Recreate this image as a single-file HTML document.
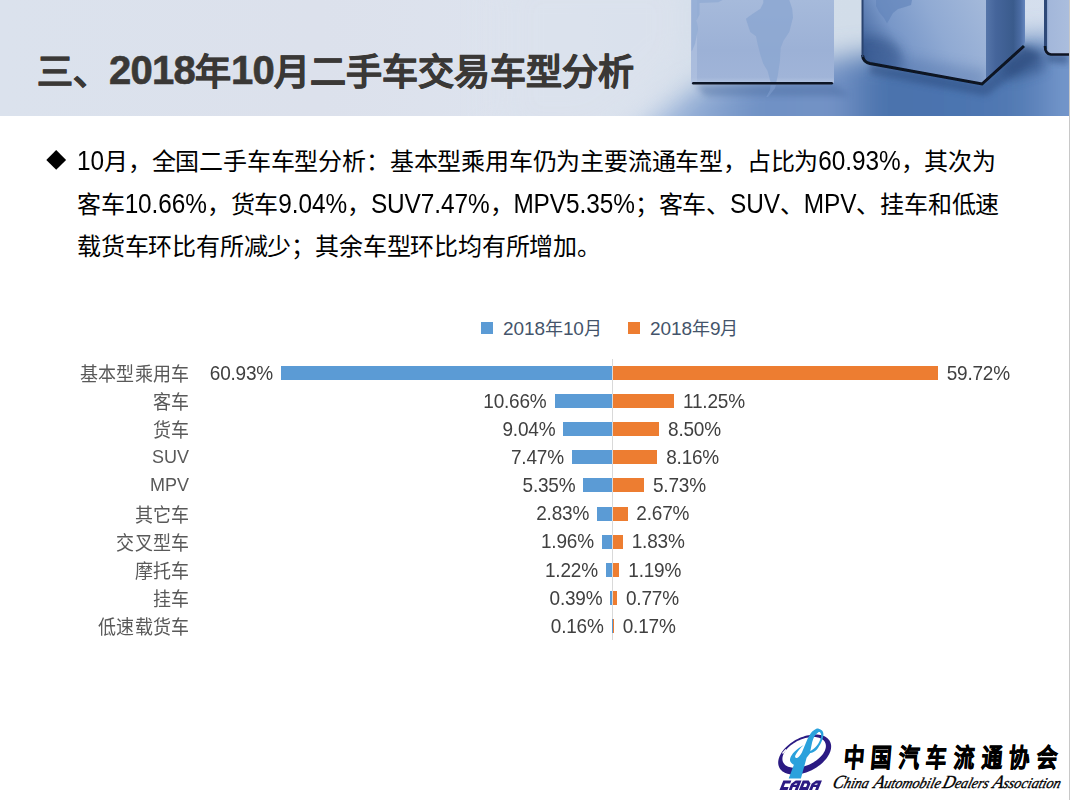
<!DOCTYPE html>
<html lang="zh-CN">
<head>
<meta charset="utf-8">
<style>
html,body{margin:0;padding:0;}
body{width:1070px;height:800px;position:relative;overflow:hidden;background:#fff;font-family:"Liberation Sans",sans-serif;}
.abs{position:absolute;}
#title .d{font-size:40px;letter-spacing:-0.75px;position:relative;top:-0.5px;}
#title{left:37px;top:42.5px;font-size:36px;font-weight:bold;-webkit-text-stroke:0.6px #3a3836;color:#3a3836;white-space:nowrap;letter-spacing:0px;}
#vline{left:1069px;top:0px;width:1px;height:800px;background:#c8c8c8;}
#para{left:77px;top:141px;width:990px;font-size:24px;letter-spacing:-0.19px;line-height:42.5px;color:#000;white-space:nowrap;}
#para .l{font-size:24.4px;letter-spacing:-0.08px;display:inline-block;transform:scaleY(1.11);transform-origin:0 65%;}
#dia{left:48.5px;top:152.9px;width:14.4px;height:14.4px;background:#000;transform:rotate(45deg);transform-origin:center;}
.leg{font-size:18px;color:#44546a;white-space:nowrap;}
.sq{width:12px;height:12px;}
.ld{font-size:19px;letter-spacing:-0.1px;}
.cat{font-size:18px;color:#595959;text-align:right;width:150px;white-space:nowrap;line-height:20px;transform:scaleY(1.07);}
.cj{letter-spacing:0.25px;margin-left:0.25px;}
.val{font-size:19px;letter-spacing:-0.2px;color:#404040;white-space:nowrap;line-height:20px;transform:scaleY(1.04);}
.bar{height:14px;}
.b{background:#5b9bd5;}
.o{background:#ed7d31;}
</style>
</head>
<body>
<svg id="hdrsvg" class="abs" style="left:0;top:0" width="1069" height="116" viewBox="0 0 1069 116">
<defs>
<linearGradient id="bgG" x1="0" y1="0" x2="1068" y2="0" gradientUnits="userSpaceOnUse">
<stop offset="0" stop-color="#dbe2ed"/><stop offset="0.3" stop-color="#dce1ec"/><stop offset="0.5" stop-color="#dde3ee"/><stop offset="0.6" stop-color="#d9e1ed"/><stop offset="0.64" stop-color="#d4deea"/><stop offset="0.8" stop-color="#d2dde9"/><stop offset="1" stop-color="#d5dfee"/>
</linearGradient>
<linearGradient id="floorG" x1="600" y1="0" x2="1068" y2="0" gradientUnits="userSpaceOnUse">
<stop offset="0" stop-color="#c8d6ea"/><stop offset="0.13" stop-color="#a3badd"/><stop offset="0.34" stop-color="#6e90c4"/><stop offset="0.5" stop-color="#7493c6"/><stop offset="0.6" stop-color="#4a72ac"/><stop offset="0.78" stop-color="#4c74b0"/><stop offset="0.9" stop-color="#537bb4"/><stop offset="1" stop-color="#7698cc"/>
</linearGradient>
<linearGradient id="c1G" x1="0" y1="0" x2="0" y2="84" gradientUnits="userSpaceOnUse">
<stop offset="0" stop-color="#a6badb"/><stop offset="0.6" stop-color="#9cb1d6"/><stop offset="0.92" stop-color="#a0b4d8"/><stop offset="1" stop-color="#b4c5e2"/>
</linearGradient>
<linearGradient id="c2L" x1="862" y1="62" x2="986" y2="0" gradientUnits="userSpaceOnUse">
<stop offset="0" stop-color="#2f4d7a"/><stop offset="0.08" stop-color="#4a6ca3"/><stop offset="0.3" stop-color="#7897c8"/><stop offset="0.6" stop-color="#90aad3"/><stop offset="1" stop-color="#a4b9da"/>
</linearGradient>
<linearGradient id="c2R" x1="986" y1="0" x2="1025" y2="0" gradientUnits="userSpaceOnUse">
<stop offset="0" stop-color="#5575a9"/><stop offset="0.25" stop-color="#45659b"/><stop offset="0.7" stop-color="#3a5b8c"/><stop offset="0.88" stop-color="#4b6ca3"/><stop offset="1" stop-color="#6586bd"/>
</linearGradient>
<linearGradient id="c3G" x1="1044" y1="0" x2="1068" y2="0" gradientUnits="userSpaceOnUse">
<stop offset="0" stop-color="#5f80b5"/><stop offset="0.2" stop-color="#a3b7da"/><stop offset="1" stop-color="#aabddd"/>
</linearGradient>
<filter id="bl20" x="-50%" y="-50%" width="200%" height="200%"><feGaussianBlur stdDeviation="18"/></filter>
<filter id="bl9" x="-30%" y="-80%" width="160%" height="260%"><feGaussianBlur stdDeviation="13"/></filter>
<filter id="bl6" x="-20%" y="-50%" width="140%" height="200%"><feGaussianBlur stdDeviation="6"/></filter>
<filter id="bl3" x="-20%" y="-50%" width="140%" height="200%"><feGaussianBlur stdDeviation="3"/></filter>
<filter id="bl1" filterUnits="userSpaceOnUse" x="0" y="-20" width="1100" height="160"><feGaussianBlur stdDeviation="0.7"/></filter>
</defs>
<rect x="0" y="0" width="1069" height="116" fill="url(#bgG)"/>
<path d="M600,150 L700,86 L850,56 L1068,36 L1120,36 L1120,150 Z" fill="url(#floorG)" filter="url(#bl9)"/>
<path d="M500,-30 L690,-30 L690,60 L600,140 L500,140 Z" fill="#dbe2ed" opacity="0.85" filter="url(#bl20)"/>
<path d="M695,84 L835,84 L850,96 L705,96 Z" fill="#4a6aa0" opacity="0.45" filter="url(#bl3)"/>
<path d="M870,63 L982,84 L1024,46 L1040,56 L986,96 L870,74 Z" fill="#2c4a7c" opacity="0.5" filter="url(#bl3)"/>
<path d="M1046,54 L1068,54 L1068,64 L1048,62 Z" fill="#2c4a7c" opacity="0.55" filter="url(#bl3)"/>
<path d="M1000,66 L1024,46 L1044,50 L1044,70 L1010,80 Z" fill="#2c4a7c" opacity="0.6" filter="url(#bl6)"/>
<!-- cube 1 -->
<rect x="691" y="-6" width="143" height="90" rx="3" fill="url(#c1G)"/>
<rect x="691" y="0" width="6" height="84" fill="#b8c8e3" opacity="0.5"/>
<path d="M763.3,0 L789.3,0 L792.2,8.7 L793,17.4 L789.3,31.9 L783.6,40.6 L780.7,47.8 L779.9,60.9 L777.8,75.4 L776.3,82 L770.5,82 L767.6,71 L763.3,63.8 L760.4,55.1 L757.5,43.5 L756,36.2 L750.2,31.9 L747.3,23.2 L745.9,18.8 L751.7,14.5 L760.4,8.7 L763.3,2.9 Z" fill="#8ba6d1" opacity="0.8"/>
<path d="M770.5,85 L776,85 L774.9,88.4 L768,97.1 L766.2,97 L770,90 Z" fill="#7e9dcd" opacity="0.6"/>
<path d="M691.5,0 L722.7,0 L718.3,2.2 L699.5,2.9 L699.5,14.5 L696.6,20.3 L698,29 L695.1,43.5 L692.2,50.7 L691.5,51 Z" fill="#8ea9d3" opacity="0.7"/>
<rect x="692" y="82" width="141" height="2.6" rx="1.3" fill="#0e1626" filter="url(#bl1)"/>
<!-- cube 2 -->
<path d="M862,-6 L986,-6 L986,80 L982,83 L868,62 Q862,60 862,55 Z" fill="url(#c2L)"/>
<clipPath id="c2clip"><path d="M862,-6 L986,-6 L986,80 L982,83 L868,62 Q862,60 862,55 Z"/></clipPath>
<g clip-path="url(#c2clip)"><ellipse cx="872" cy="58" rx="30" ry="22" fill="#2f4f85" opacity="0.55" filter="url(#bl6)"/><path d="M862,70 L986,92 L986,70 L862,50 Z" fill="#4a6ca3" opacity="0.35" filter="url(#bl6)"/></g>
<path d="M986,-6 L1025,-6 L1025,42 Q1025,45 1022,47 L985,82 L986,80 Z" fill="url(#c2R)"/>
<path d="M876,0 L912,0 L911,5 L905,7 L898,9 L893,13 L889,20 L887,23.5 L884,18 L879,12 L876,6 Z" fill="#5f82b9" opacity="0.6"/>
<path d="M862.5,55 Q863,62 870,63.5 L982,84 L1024,46" fill="none" stroke="#0a1220" stroke-width="3" filter="url(#bl1)"/>
<path d="M862.5,0 L862.5,57" fill="none" stroke="#2a4470" stroke-width="2" filter="url(#bl1)"/>
<!-- cube 3 -->
<rect x="1044" y="-6" width="30" height="60" rx="3" fill="url(#c3G)"/>
<path d="M1045.5,-6 L1045.5,49" fill="none" stroke="#2d4a78" stroke-width="3" filter="url(#bl1)"/>
<path d="M1045,46 Q1045,54 1051,54.5 L1070,54.5" fill="none" stroke="#0a1220" stroke-width="2.6" filter="url(#bl1)"/>
</svg>
<div id="title" class="abs">三、<span class="d">2018</span>年<span class="d">10</span>月二手车交易车型分析</div>
<div id="vline" class="abs"></div>

<div id="dia" class="abs"></div>
<div id="para" class="abs"><span class="l">10</span>月，全国二手车车型分析：基本型乘用车仍为主要流通车型，占比为<span class="l">60.93%</span>，其次为<br>客车<span class="l">10.66%</span>，货车<span class="l">9.04%</span>，<span class="l">SUV7.47%</span>，<span class="l">MPV5.35%</span>；客车、<span class="l">SUV</span>、<span class="l">MPV</span>、挂车和低速<br>载货车环比有所减少；其余车型环比均有所增加。</div>

<div class="abs sq b" style="left:481px;top:322px"></div>
<div class="abs leg" style="left:503px;top:314px"><span class="ld">2018</span>年<span class="ld">10</span>月</div>
<div class="abs sq o" style="left:628px;top:322px"></div>
<div class="abs leg" style="left:650px;top:314px"><span class="ld">2018</span>年<span class="ld">9</span>月</div>

<div class="abs" style="left:612px;top:359px;width:1px;height:281px;background:#d9d9d9"></div>

<div id="chart">
<div class="abs bar b" style="left:281.04px;top:366px;width:331.46px"></div>
<div class="abs bar o" style="left:613.00px;top:366px;width:324.88px"></div>
<div class="abs cat cj" style="left:39px;top:365.1px">基本型乘用车</div>
<div class="abs val" style="right:796.96px;top:363.9px">60.93%</div>
<div class="abs val" style="left:946.68px;top:363.9px">59.72%</div>
<div class="abs bar b" style="left:554.51px;top:394px;width:57.99px"></div>
<div class="abs bar o" style="left:613.00px;top:394px;width:61.20px"></div>
<div class="abs cat cj" style="left:39px;top:393.1px">客车</div>
<div class="abs val" style="right:523.49px;top:391.9px">10.66%</div>
<div class="abs val" style="left:683.00px;top:391.9px">11.25%</div>
<div class="abs bar b" style="left:563.32px;top:422px;width:49.18px"></div>
<div class="abs bar o" style="left:613.00px;top:422px;width:46.24px"></div>
<div class="abs cat cj" style="left:39px;top:421.2px">货车</div>
<div class="abs val" style="right:514.68px;top:420.1px">9.04%</div>
<div class="abs val" style="left:668.04px;top:420.1px">8.50%</div>
<div class="abs bar b" style="left:571.86px;top:450px;width:40.64px"></div>
<div class="abs bar o" style="left:613.00px;top:450px;width:44.39px"></div>
<div class="abs cat" style="left:39px;top:447.4px">SUV</div>
<div class="abs val" style="right:506.14px;top:448.2px">7.47%</div>
<div class="abs val" style="left:666.19px;top:448.2px">8.16%</div>
<div class="abs bar b" style="left:583.40px;top:478px;width:29.10px"></div>
<div class="abs bar o" style="left:613.00px;top:478px;width:31.17px"></div>
<div class="abs cat" style="left:39px;top:475.4px">MPV</div>
<div class="abs val" style="right:494.60px;top:476.2px">5.35%</div>
<div class="abs val" style="left:652.97px;top:476.2px">5.73%</div>
<div class="abs bar b" style="left:597.10px;top:507px;width:15.40px"></div>
<div class="abs bar o" style="left:613.00px;top:507px;width:14.52px"></div>
<div class="abs cat cj" style="left:39px;top:505.5px">其它车</div>
<div class="abs val" style="right:480.90px;top:504.3px">2.83%</div>
<div class="abs val" style="left:636.32px;top:504.3px">2.67%</div>
<div class="abs bar b" style="left:601.84px;top:535px;width:10.66px"></div>
<div class="abs bar o" style="left:613.00px;top:535px;width:9.96px"></div>
<div class="abs cat cj" style="left:39px;top:533.6px">交叉型车</div>
<div class="abs val" style="right:476.16px;top:532.4px">1.96%</div>
<div class="abs val" style="left:631.76px;top:532.4px">1.83%</div>
<div class="abs bar b" style="left:605.86px;top:563px;width:6.64px"></div>
<div class="abs bar o" style="left:613.00px;top:563px;width:6.47px"></div>
<div class="abs cat cj" style="left:39px;top:561.8px">摩托车</div>
<div class="abs val" style="right:472.14px;top:560.5px">1.22%</div>
<div class="abs val" style="left:628.27px;top:560.5px">1.19%</div>
<div class="abs bar b" style="left:610.38px;top:591px;width:2.12px"></div>
<div class="abs bar o" style="left:613.00px;top:591px;width:4.19px"></div>
<div class="abs cat cj" style="left:39px;top:589.9px">挂车</div>
<div class="abs val" style="right:467.62px;top:588.6px">0.39%</div>
<div class="abs val" style="left:625.99px;top:588.6px">0.77%</div>
<div class="abs bar b" style="left:611.63px;top:619px;width:0.87px"></div>
<div class="abs bar o" style="left:613.00px;top:619px;width:0.92px"></div>
<div class="abs cat cj" style="left:39px;top:618.0px">低速载货车</div>
<div class="abs val" style="right:466.37px;top:616.8px">0.16%</div>
<div class="abs val" style="left:622.72px;top:616.8px">0.17%</div>
</div><!--/chart-->
<script>
</script>
<!--logo-->
<svg class="abs" style="left:775px;top:725px" width="60" height="71" viewBox="775 725 60 71">
<path fill-rule="evenodd" fill="#2b1a83" d="M829.95,741.39 L830.44,742.48 L830.80,743.63 L831.04,744.83 L831.15,746.08 L831.13,747.37 L830.98,748.70 L830.70,750.05 L830.29,751.43 L829.76,752.82 L829.11,754.22 L828.34,755.62 L827.45,757.02 L826.46,758.40 L825.35,759.77 L824.15,761.11 L822.85,762.41 L821.46,763.68 L819.99,764.91 L818.45,766.08 L816.84,767.20 L815.17,768.26 L813.44,769.25 L811.68,770.17 L809.88,771.01 L808.06,771.77 L806.22,772.45 L804.37,773.04 L802.52,773.54 L800.68,773.95 L798.87,774.27 L797.08,774.48 L795.33,774.60 L793.62,774.63 L791.97,774.55 L790.38,774.38 L788.86,774.11 L787.42,773.75 L786.06,773.29 L784.79,772.74 L783.62,772.10 L782.55,771.38 L781.58,770.58 L780.74,769.69 L780.00,768.74 L779.39,767.71 L778.90,766.62 L778.54,765.47 L778.30,764.27 L778.19,763.02 L778.21,761.73 L778.36,760.40 L778.64,759.05 L779.05,757.67 L779.58,756.28 L780.23,754.88 L781.00,753.48 L781.89,752.08 L782.88,750.70 L783.99,749.33 L785.19,747.99 L786.49,746.69 L787.88,745.42 L789.35,744.19 L790.89,743.02 L792.50,741.90 L794.17,740.84 L795.90,739.85 L797.66,738.93 L799.46,738.09 L801.28,737.33 L803.12,736.65 L804.97,736.06 L806.82,735.56 L808.66,735.15 L810.47,734.83 L812.26,734.62 L814.01,734.50 L815.72,734.47 L817.37,734.55 L818.96,734.72 L820.48,734.99 L821.92,735.35 L823.28,735.81 L824.55,736.36 L825.72,737.00 L826.79,737.72 L827.76,738.52 L828.60,739.41 L829.34,740.36 Z M825.18,742.63 L825.51,743.48 L825.75,744.38 L825.87,745.32 L825.89,746.29 L825.81,747.29 L825.62,748.32 L825.32,749.37 L824.93,750.43 L824.43,751.50 L823.83,752.58 L823.14,753.66 L822.35,754.73 L821.47,755.79 L820.52,756.83 L819.48,757.85 L818.36,758.84 L817.18,759.81 L815.93,760.73 L814.63,761.62 L813.27,762.46 L811.87,763.26 L810.44,764.00 L808.97,764.68 L807.48,765.31 L805.97,765.87 L804.46,766.37 L802.94,766.79 L801.43,767.15 L799.93,767.44 L798.45,767.65 L797.00,767.79 L795.58,767.86 L794.21,767.85 L792.89,767.76 L791.62,767.60 L790.41,767.37 L789.26,767.06 L788.19,766.68 L787.20,766.23 L786.29,765.72 L785.47,765.14 L784.74,764.50 L784.10,763.80 L783.56,763.04 L783.12,762.23 L782.79,761.38 L782.55,760.48 L782.43,759.54 L782.41,758.57 L782.49,757.57 L782.68,756.54 L782.98,755.49 L783.37,754.43 L783.87,753.36 L784.47,752.28 L785.16,751.20 L785.95,750.13 L786.83,749.07 L787.78,748.03 L788.82,747.01 L789.94,746.02 L791.12,745.05 L792.37,744.13 L793.67,743.24 L795.03,742.40 L796.43,741.60 L797.86,740.86 L799.33,740.18 L800.82,739.55 L802.33,738.99 L803.84,738.49 L805.36,738.07 L806.87,737.71 L808.37,737.42 L809.85,737.21 L811.30,737.07 L812.72,737.00 L814.09,737.01 L815.41,737.10 L816.68,737.26 L817.89,737.49 L819.04,737.80 L820.11,738.18 L821.10,738.63 L822.01,739.14 L822.83,739.72 L823.56,740.36 L824.20,741.06 L824.74,741.82 Z"/>
<path d="M782.5,753.5 L786,749.5" stroke="#fff" stroke-width="1.4"/>
<path fill-rule="evenodd" fill="#2aa1dc" d="M788.7,778.6 L793.9,764.8 C791,763.5 789.5,761 790.1,758.7 C791,754.5 797,748.5 803.7,745.1 C800.5,748 797,752 795.3,755.5 C794.5,757.5 796,758.5 797.5,757.8 C799,757 800.5,755 801.9,752.5 L807.5,739 C810,734 812,731 814,730.2 C816,728.5 817.5,728.2 818.7,728.7 C821.5,729.5 823.6,731 823.4,734.5 C823.2,739 820.5,745 816.9,749.4 C814.5,751.5 812.5,752.8 810.3,753.1 L806.6,757.8 L800.9,778.6 Z M819.7,732 C821,733 821.5,735 821.1,737.2 C820,741 818.5,743.5 816.9,745.6 C815,748 812.5,750 810.3,751.2 C811,748 811.5,745 812.2,741.9 C813.5,737.5 815,735 816.9,733.4 C817.8,732.5 818.8,731.7 819.7,732 Z"/>

<g transform="translate(779.5,790) skewX(-22)" fill="#2b1a83">
<path d="M0,0 L0,-9.5 L8,-9.5 L8,-6.6 L3,-6.6 L3,-2.9 L8,-2.9 L8,0 Z"/>
<path fill-rule="evenodd" d="M9.2,0 L9.2,-6.2 L12.4,-9.5 L18.2,-9.5 L18.2,0 L15.2,0 L15.2,-2.9 L12.2,-2.9 L12.2,0 Z M12.2,-5.2 L13.3,-6.6 L15.2,-6.6 L15.2,-5.2 Z"/>
<path fill-rule="evenodd" d="M19.4,0 L19.4,-9.5 L25.4,-9.5 L28.4,-6.5 L28.4,0 Z M22.4,-2.9 L25.4,-2.9 L25.4,-5.6 L24.5,-6.6 L22.4,-6.6 Z"/>
<path fill-rule="evenodd" d="M29.6,0 L29.6,-6.2 L32.8,-9.5 L38.6,-9.5 L38.6,0 L35.6,0 L35.6,-2.9 L32.6,-2.9 L32.6,0 Z M32.6,-5.2 L33.7,-6.6 L35.6,-6.6 L35.6,-5.2 Z"/>
</g>
</svg>
<div id="cn" class="abs" style="left:845px;top:739px;font-size:26px;font-weight:bold;letter-spacing:8.5px;white-space:nowrap;color:#000;-webkit-text-stroke:0.75px #000;transform:scaleX(0.8) skewX(-6deg);transform-origin:0 0;line-height:38px">中国汽车流通协会</div>
<svg class="abs" style="left:826px;top:770px" width="244" height="26" viewBox="0 0 244 26">
<g font-family="Liberation Serif" font-style="italic" font-size="15" fill="#000" stroke="#000" stroke-width="0.35" transform="skewX(-16) translate(5,0)">
<text x="6" y="18.5" textLength="36" lengthAdjust="spacingAndGlyphs"><tspan font-size="18.5">C</tspan>hina</text>
<text x="47" y="18.5" textLength="67" lengthAdjust="spacingAndGlyphs"><tspan font-size="18.5">A</tspan>utomobile</text>
<text x="116" y="18.5" textLength="46" lengthAdjust="spacingAndGlyphs"><tspan font-size="18.5">D</tspan>ealers</text>
<text x="166" y="18.5" textLength="68" lengthAdjust="spacingAndGlyphs"><tspan font-size="18.5">A</tspan>ssociation</text>
</g>
</svg>
</body>
</html>
